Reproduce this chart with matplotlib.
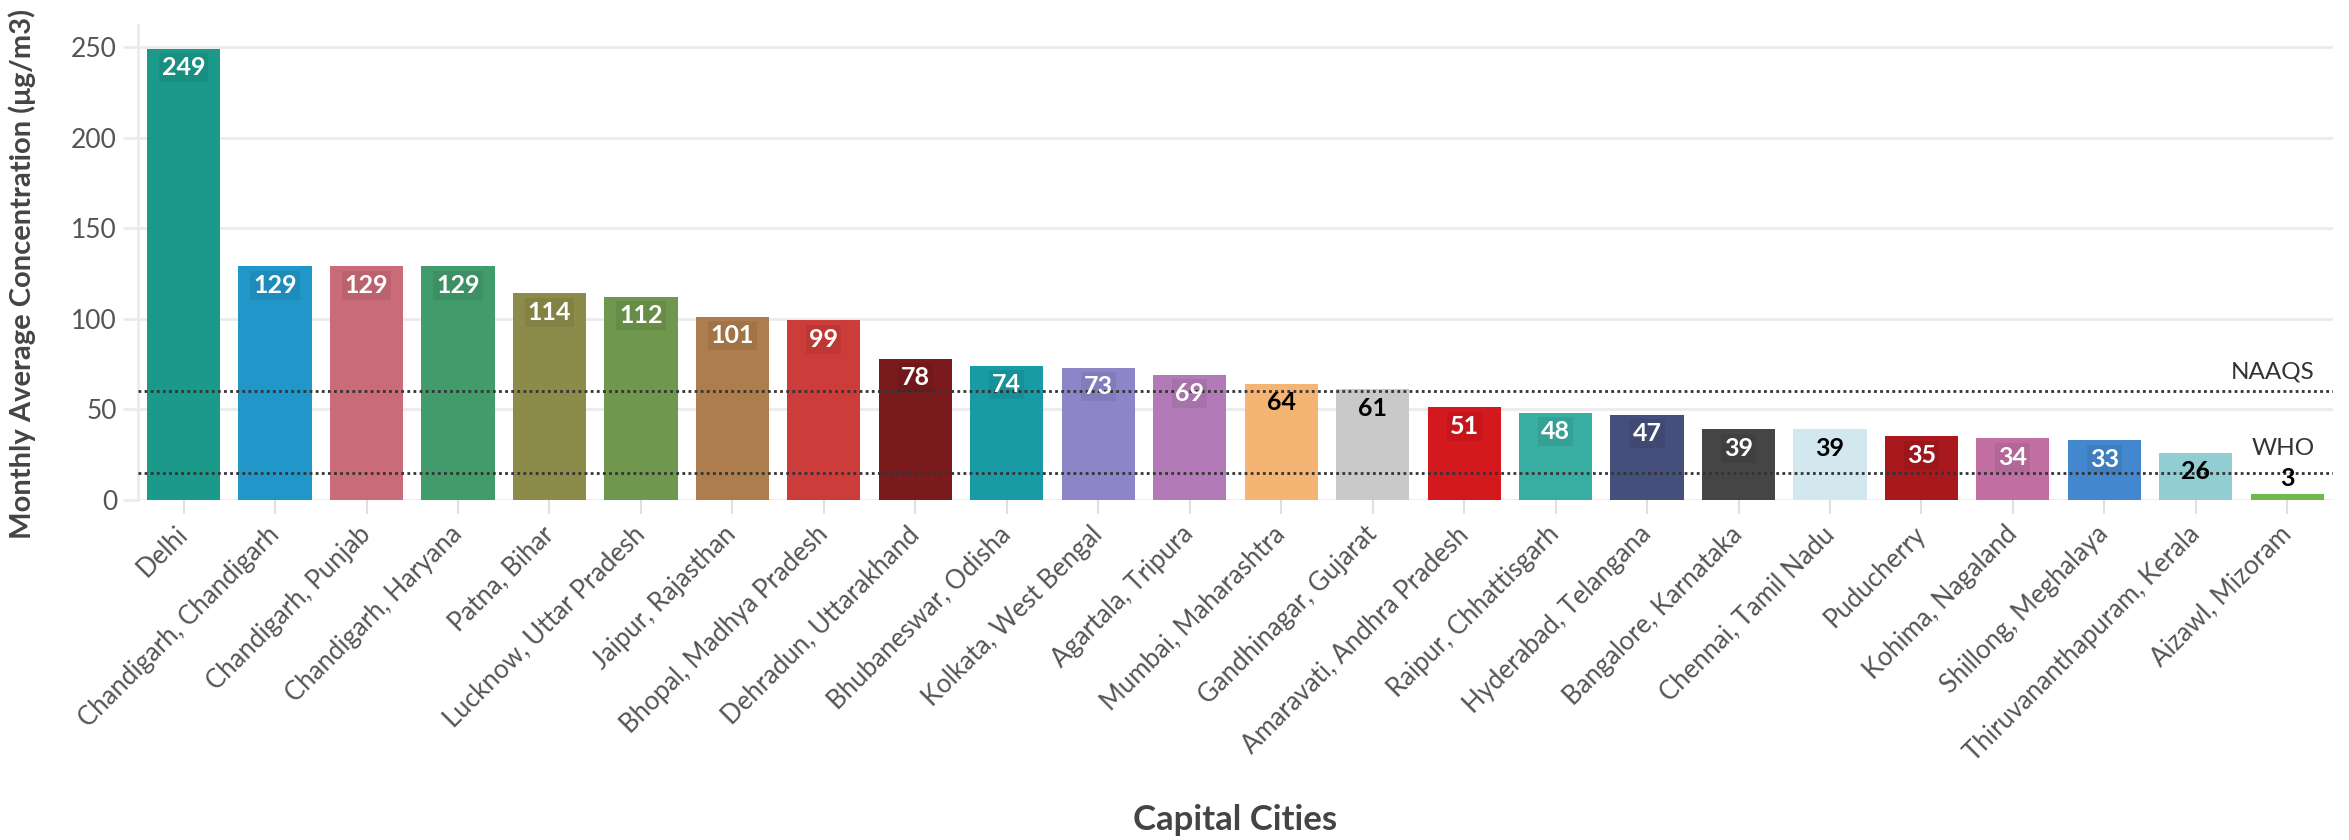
#!/usr/bin/env python3

import numpy as np
from matplotlib import pyplot as plt

# * Data

cities = [
    "Delhi", "Chandigarh, Chandigarh", "Chandigarh, Punjab", "Chandigarh, Haryana",
    "Patna, Bihar", "Lucknow, Uttar Pradesh", "Jaipur, Rajasthan",
    "Bhopal, Madhya Pradesh", "Dehradun, Uttarakhand", "Bhubaneswar, Odisha",
    "Kolkata, West Bengal", "Agartala, Tripura", "Mumbai, Maharashtra",
    "Gandhinagar, Gujarat", "Amaravati, Andhra Pradesh", "Raipur, Chhattisgarh",
    "Hyderabad, Telangana", "Bangalore, Karnataka", "Chennai, Tamil Nadu",
    "Puducherry", "Kohima, Nagaland", "Shillong, Meghalaya",
    "Thiruvananthapuram, Kerala", "Aizawl, Mizoram",
]
values = [249, 129, 129, 129, 114, 112, 101, 99, 78, 74, 73, 69, 64, 61,
          51, 48, 47, 39, 39, 35, 34, 33, 26, 3]
colors = [
    "#1b998b", "#2196c9", "#c96b78", "#419b6b", "#8d8b4a", "#6f974e",
    "#ae7d4d", "#cc3c3a", "#7b1a1d", "#189ba5", "#8c86c9", "#b27bb7",
    "#f4b574", "#c9c9c9", "#d4191e", "#38ada2", "#444f7b", "#454545",
    "#d3e8ee", "#a8181c", "#c16fa2", "#4388ce", "#92cdd3", "#6dbb4b",
]
dark_text = {"Mumbai, Maharashtra", "Gandhinagar, Gujarat", "Chennai, Tamil Nadu",
             "Thiruvananthapuram, Kerala", "Aizawl, Mizoram"}

naaqs = 60
who = 15
yticks = [0, 50, 100, 150, 200, 250]

# * Plotting

plt.rcParams['font.family'] = ['Lato', 'DejaVu Sans']

fig = plt.figure(figsize=(23.49, 8.4), dpi=100)
ax = fig.add_axes([0.0587, 0.405, 0.9345, 0.565])

x = np.arange(len(cities))
ax.bar(x, values, width=0.8, color=colors, zorder=2)

for xi, v, name in zip(x, values, cities):
    tc = "black" if name in dark_text else "white"
    ty = v - 10.5 if v >= 20 else v + 9
    box = None
    if tc == "white":
        box = dict(boxstyle="square,pad=0.12", fc="black", alpha=0.07, ec="none")
    ax.text(xi, ty, str(v), ha='center', va='center', fontsize=18,
            fontweight='bold', color=tc, zorder=4, bbox=box)

ax.axhline(naaqs, color="#333333", lw=2, ls=(0, (1, 1.2)), zorder=3)
ax.axhline(who, color="#333333", lw=2, ls=(0, (1, 1.2)), zorder=3)
ax.text(23.3, naaqs + 5, "NAAQS", ha='right', va='bottom', fontsize=17.5, color="#333333")
ax.text(23.3, who + 7.5, "WHO", ha='right', va='bottom', fontsize=17.5, color="#333333")

ax.set_xlim(-0.5, 23.5)
ax.set_ylim(0, 262)
ax.set_yticks(yticks)
ax.set_xticks(x)
ax.set_xticklabels(cities, rotation=45, ha='right', va='center', rotation_mode='anchor')

ax.grid(axis='y', color="#ebebeb", lw=2, zorder=0)
ax.set_axisbelow(True)
for s in ['top', 'right', 'bottom']:
    ax.spines[s].set_visible(False)
ax.spines['left'].set_color("#ebebeb")
ax.spines['left'].set_linewidth(2)

ax.tick_params(axis='y', length=11, width=2, color="#ebebeb", labelsize=19,
               labelcolor="#555555", pad=4)
ax.tick_params(axis='x', length=10, width=1.5, color="#e0e0e0", labelsize=18.5,
               labelcolor="#555555", pad=12)

ax.set_ylabel("Monthly Average Concentration (\u03bcg/m3)", fontsize=21,
              fontweight='bold', color="#444444", va='center')
ax.yaxis.set_label_coords(-0.0525, 0.476)
ax.set_xlabel("Capital Cities", fontsize=25, fontweight='bold', color="#444444",
              va='center')
ax.xaxis.set_label_coords(0.5, -0.674)

fig.savefig("out.png", dpi=100)
